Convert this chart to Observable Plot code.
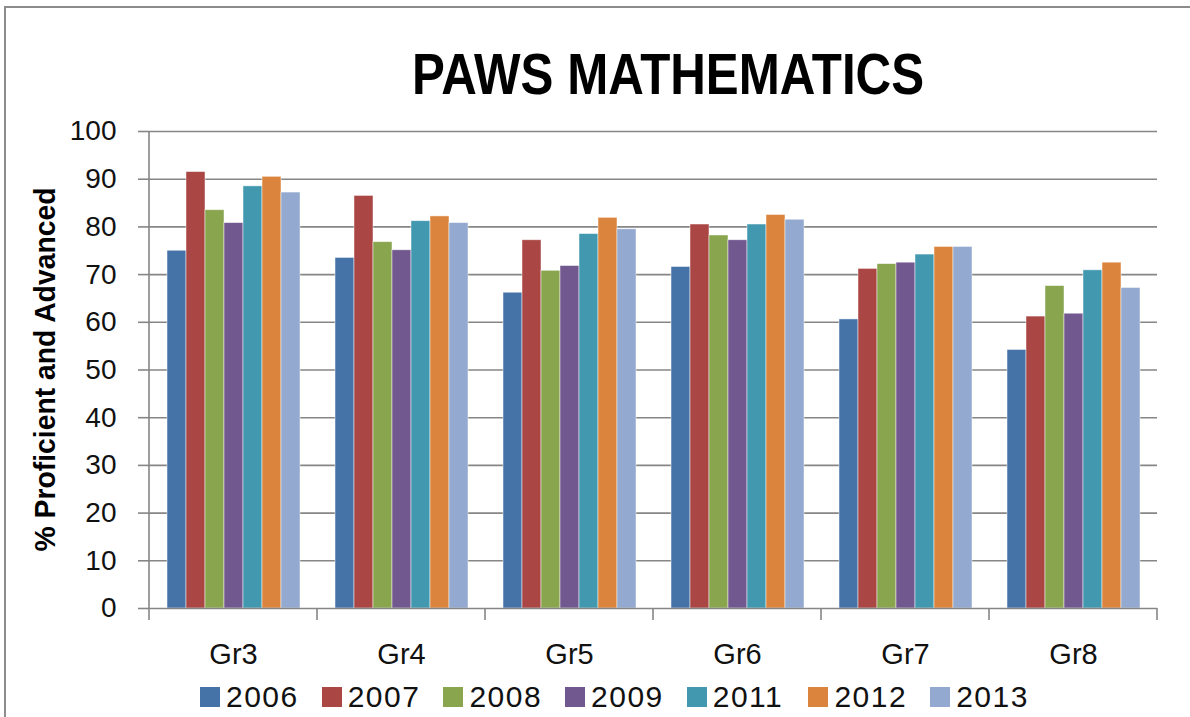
<!DOCTYPE html>
<html>
<head>
<meta charset="utf-8">
<script src="https://cdn.jsdelivr.net/npm/d3@7"></script>
<script src="https://cdn.jsdelivr.net/npm/@observablehq/plot@0.6"></script>
<style>
html,body{margin:0;padding:0;width:1190px;height:717px;overflow:hidden;background:#fff;font-family:"Liberation Sans",Arial,sans-serif;}
#frame{position:absolute;left:4px;top:6px;width:1400px;height:900px;border:2px solid #8c8c8c;box-sizing:border-box;}
#title{position:absolute;left:0;top:45px;width:1336px;text-align:center;font:bold 58px/58px "Liberation Sans",Arial,sans-serif;transform:scaleX(0.85);color:#000;white-space:nowrap;}
#chart{position:absolute;left:0;top:115px;}
#legend{position:absolute;left:200px;top:687px;display:flex;}
.item{width:121.7px;display:flex;align-items:center;height:20px;}
.sw{width:20px;height:20px;margin-right:6px;flex:none;}
.lab{font-size:30px;letter-spacing:1.5px;line-height:20px;color:#111;}
</style>
</head>
<body>
<div id="frame"></div>
<div id="title">PAWS MATHEMATICS</div>
<div id="chart"></div>
<div id="legend"></div>
<script>
const grades = ["Gr3", "Gr4", "Gr5", "Gr6", "Gr7", "Gr8"];
const years = ["2006", "2007", "2008", "2009", "2011", "2012", "2013"];
const v2006 = [75.0, 73.5, 66.2, 71.6, 60.6, 54.2];
const v2007 = [91.5, 86.5, 77.2, 80.5, 71.2, 61.2];
const v2008 = [83.5, 76.8, 70.8, 78.2, 72.2, 67.6];
const v2009 = [80.8, 75.1, 71.8, 77.2, 72.5, 61.8];
const v2011 = [88.5, 81.2, 78.5, 80.5, 74.2, 70.9];
const v2012 = [90.5, 82.2, 81.9, 82.5, 75.8, 72.5];
const v2013 = [87.2, 80.8, 79.5, 81.5, 75.8, 67.2];
const yTicks = [0, 10, 20, 30, 40, 50, 60, 70, 80, 90, 100];
const colors = ["#4572A7", "#AA4643", "#89A54E", "#71588F", "#4198AF", "#DB843D", "#93A9CF"];
const yLabel = "% Proficient and Advanced";

const series = [v2006, v2007, v2008, v2009, v2011, v2012, v2013];
const data = [];
grades.forEach((g, gi) => {
  years.forEach((yr, yi) => {
    data.push({grade: g, year: yr, value: series[yi][gi]});
  });
});

const gray = "#868686";
const plot = Plot.plot({
  width: 1190,
  height: 565,
  marginTop: 16,
  marginBottom: 72,
  marginLeft: 148,
  marginRight: 32,
  style: {fontFamily: "Liberation Sans, Arial, sans-serif", fontSize: "28px", color: "#111", background: "transparent"},
  fx: {domain: grades, padding: 0, label: null},
  x: {domain: years, paddingInner: 0, paddingOuter: 0.78, axis: null},
  y: {domain: [0, 100], label: null},
  color: {domain: years, range: colors},
  marks: [
    Plot.gridY(yTicks.filter(d => d > 0), {stroke: gray, strokeOpacity: 1, strokeWidth: 1.6}),
    Plot.barY(data, {fx: "grade", x: "year", y: "value", fill: "year", stroke: "#fff", strokeOpacity: 0.6, strokeWidth: 0.8}),
    Plot.ruleY([0], {stroke: gray, strokeWidth: 1.6}),
    Plot.axisY(yTicks, {tickSize: 11, tickPadding: 22, stroke: gray, strokeOpacity: 1, strokeWidth: 1.6, fill: "#111", fontSize: 28, label: null}),
    Plot.axisFx({anchor: "bottom", tickSize: 0, tickPadding: 35, fontSize: 29, fill: "#111", label: null})
  ]
});
document.getElementById("chart").appendChild(plot);

// axis line, category separators and y label using the plot's own scales
const svg = d3.select(plot);
const fx = plot.scale("fx");
const ys = plot.scale("y");
const y0 = ys.apply(0), y100 = ys.apply(100);
const edges = grades.map(g => fx.apply(g));
edges.push(fx.apply(grades[grades.length - 1]) + fx.bandwidth);
const g = svg.append("g").attr("stroke", gray).attr("stroke-width", 1.6);
g.append("line").attr("x1", edges[0]).attr("x2", edges[0]).attr("y1", y100).attr("y2", y0);
edges.forEach(x => {
  g.append("line").attr("x1", x).attr("x2", x).attr("y1", y0).attr("y2", y0 + 12);
});
svg.append("text")
  .attr("transform", `translate(55,${(y0 + y100) / 2}) rotate(-90)`)
  .attr("text-anchor", "middle")
  .attr("font-weight", "bold")
  .attr("font-size", 29)
  .attr("fill", "#000")
  .attr("textLength", 364)
  .attr("lengthAdjust", "spacingAndGlyphs")
  .text(yLabel);

// legend
const legend = document.getElementById("legend");
years.forEach((yr, i) => {
  const item = document.createElement("div");
  item.className = "item";
  const sw = document.createElement("div");
  sw.className = "sw";
  sw.style.background = colors[i];
  const lab = document.createElement("span");
  lab.className = "lab";
  lab.textContent = yr;
  item.appendChild(sw);
  item.appendChild(lab);
  legend.appendChild(item);
});
</script>
</body>
</html>
